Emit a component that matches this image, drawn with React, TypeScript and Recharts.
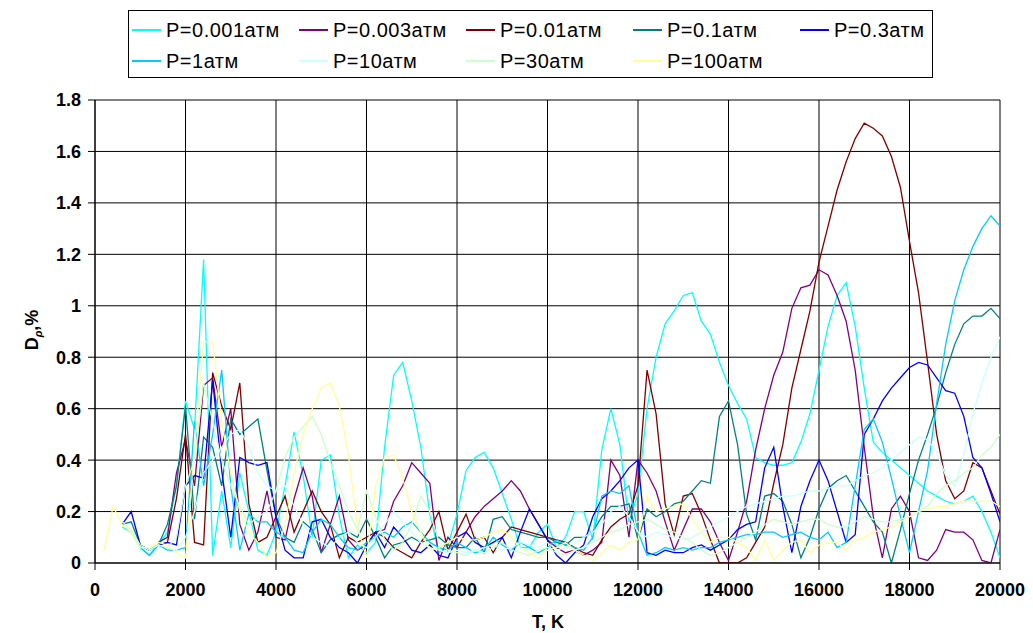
import React from 'react';
import { LineChart, Line, XAxis, YAxis, CartesianGrid } from 'recharts';

const T_VALUES: number[] = Array.from({ length: 100 }, (_, i) => 200 * (i + 1));
const X_TICKS = [0, 2000, 4000, 6000, 8000, 10000, 12000, 14000, 16000, 18000, 20000];
const Y_TICKS = [0, 0.2, 0.4, 0.6, 0.8, 1, 1.2, 1.4, 1.6, 1.8];

const P0001 = [
  null, null, 0.14, 0.12, 0.06, 0.03, 0.07, 0.12, 0.3, 0.63,
  0.52, 1.18, 0.03, 0.28, 0.06, 0.35, 0.2, 0.05, 0.03, 0.12,
  0.3, 0.51, 0.34, 0.1, 0.4, 0.42, 0.18, 0.02, 0.07, 0.04,
  0.08, 0.45, 0.73, 0.78, 0.63, 0.45, 0.19, 0.04, 0.07, 0.19,
  0.36, 0.41, 0.43, 0.37, 0.27, 0.17, 0.06, 0.06, 0.12, 0.15,
  0.06, 0.1, 0.2, 0.2, 0.09, 0.44, 0.6, 0.46, 0.16, 0.27,
  0.6, 0.8, 0.93, 0.98, 1.04, 1.05, 0.94, 0.89, 0.78, 0.69,
  0.62, 0.56, 0.41, 0.39, 0.38, 0.38, 0.39, 0.47, 0.58, 0.75,
  0.92, 1.04, 1.09, 0.92, 0.68, 0.47, 0.43, 0.4, 0.37, 0.34,
  0.31, 0.28, 0.26, 0.24, 0.23, 0.24, 0.26, 0.2, 0.12, 0.02,
];

const P0003 = [
  null, null, null, null, null, null, 0.08, 0.1, 0.35, 0.48,
  0.3, 0.69, 0.72, 0.45, 0.6, 0.15, 0.05, 0.12, 0.28, 0.1,
  0.09, 0.25, 0.37, 0.26, 0.04, 0.15, 0.26, 0.09, 0.05, 0.07,
  0.12, 0.13, 0.24, 0.3, 0.39, 0.35, 0.31, 0.01, 0.1, 0.06,
  0.12, 0.18, 0.22, 0.25, 0.28, 0.32, 0.28, 0.21, 0.15, 0.09,
  0.06, 0.04, 0.05, 0.03, 0.05, 0.08, 0.4, 0.34, 0.1, 0.4,
  0.35, 0.28, 0.16, 0.05, 0.13, 0.21, 0.21, 0.16, 0.08, 0.01,
  0.12, 0.24, 0.44, 0.6, 0.73, 0.82, 0.99, 1.07, 1.08, 1.14,
  1.12, 1.04, 0.94, 0.75, 0.45, 0.18, 0.02, 0.21, 0.26, 0.2,
  0.02, 0.01, 0.05, 0.13, 0.12, 0.12, 0.09, 0.01, 0.0, 0.13,
];

const P001 = [
  null, null, null, null, null, null, 0.07, 0.08, 0.25, 0.5,
  0.08, 0.07, 0.74, 0.61, 0.52, 0.7, 0.23, 0.08, 0.1, 0.18,
  0.26, 0.12, 0.2, 0.28, 0.2, 0.15, 0.02, 0.1, 0.08, 0.1,
  0.12, 0.1, 0.06, 0.04, 0.02, 0.08, 0.13, 0.2, 0.05, 0.12,
  0.19, 0.09, 0.1, 0.04, 0.1, 0.14, 0.13, 0.12, 0.11, 0.1,
  0.09, 0.08, 0.06, 0.04, 0.03, 0.09, 0.14, 0.17, 0.19, 0.3,
  0.75, 0.58, 0.23, 0.11, 0.26, 0.27, 0.19, 0.09, 0.0, 0.0,
  0.0, 0.02, 0.08, 0.14, 0.31, 0.46, 0.68, 0.83, 0.98, 1.17,
  1.31, 1.45, 1.56, 1.65, 1.71, 1.69, 1.66, 1.58, 1.46, 1.25,
  1.05, 0.78, 0.5, 0.32, 0.25, 0.28, 0.39, 0.37, 0.28, 0.19,
];

const P01 = [
  null, null, 0.15, 0.16, 0.07, 0.05, 0.07, 0.15, 0.3, 0.61,
  0.17, 0.49, 0.45, 0.3, 0.56, 0.5, 0.53, 0.56, 0.36, 0.18,
  0.1, 0.08, 0.16, 0.13, 0.04, 0.09, 0.11, 0.12, 0.1, 0.17,
  0.1, 0.02, 0.07, 0.08, 0.1, 0.08, 0.09, 0.1, 0.07, 0.06,
  0.06, 0.1, 0.04, 0.17, 0.18, 0.13, 0.12, 0.11, 0.1, 0.1,
  0.08, 0.07, 0.1, 0.1, 0.12, 0.18, 0.22, 0.22, 0.23, 0.09,
  0.21, 0.18, 0.2, 0.23, 0.24, 0.28, 0.32, 0.31, 0.57, 0.63,
  0.46, 0.19, 0.09, 0.26, 0.27, 0.24, 0.15, 0.02, 0.1, 0.21,
  0.29, 0.32, 0.34, 0.28, 0.22, 0.16, 0.12, 0.0, 0.13, 0.27,
  0.4, 0.5, 0.61, 0.74, 0.85, 0.93, 0.96, 0.96, 0.99, 0.95,
];

const P03 = [
  null, null, 0.15, 0.2, 0.07, 0.05, 0.07, 0.08, 0.07, 0.3,
  0.34, 0.33, 0.71, 0.36, 0.1, 0.41, 0.39, 0.38, 0.39, 0.18,
  0.05, 0.02, 0.02, 0.16, 0.17, 0.1, 0.06, 0.04, 0.0, 0.07,
  0.12, 0.06, 0.14, 0.1, 0.05, 0.04, 0.07, 0.03, 0.02, 0.1,
  0.12, 0.08, 0.06, 0.08, 0.1, 0.02, 0.12, 0.21, 0.15, 0.09,
  0.03, 0.0, 0.04, 0.07, 0.18, 0.25, 0.28, 0.32, 0.37, 0.4,
  0.04, 0.03, 0.05, 0.04, 0.04, 0.06, 0.07, 0.05, 0.07, 0.09,
  0.13, 0.15, 0.16, 0.37, 0.45, 0.22, 0.04, 0.22, 0.32, 0.4,
  0.32, 0.2, 0.08, 0.11, 0.5, 0.56, 0.63, 0.68, 0.72, 0.76,
  0.78, 0.77, 0.72, 0.67, 0.66, 0.57, 0.41, 0.37, 0.27, 0.16,
];

const P1 = [
  null, null, null, null, 0.06, 0.03, 0.07, 0.05, 0.05, 0.06,
  0.55, 0.3, 0.5, 0.75, 0.3, 0.05, 0.19, 0.16, 0.16, 0.12,
  0.1, 0.05, 0.04, 0.12, 0.17, 0.15, 0.1, 0.06, 0.05, 0.08,
  0.1, 0.12, 0.1, 0.14, 0.16, 0.12, 0.08, 0.06, 0.05, 0.08,
  0.06, 0.04, 0.05, 0.1, 0.07, 0.05, 0.08, 0.06, 0.04, 0.06,
  0.09, 0.07, 0.06, 0.05, 0.1, 0.26, 0.28, 0.27, 0.3, 0.12,
  0.03, 0.04, 0.06, 0.05, 0.06, 0.05, 0.06, 0.06, 0.08, 0.09,
  0.1, 0.11, 0.11, 0.12, 0.12, 0.1, 0.11, 0.12, 0.1, 0.09,
  0.12, 0.06, 0.08, 0.3, 0.52, 0.56, 0.47, 0.33, 0.18, 0.04,
  0.2, 0.36, 0.62, 0.85, 1.02, 1.14, 1.23, 1.3, 1.35, 1.31,
];

const P10 = [
  null, null, null, null, null, 0.05, 0.07, 0.06, 0.05, 0.1,
  0.2, 0.35, 0.4, 0.45, 0.5, 0.52, 0.45, 0.35, 0.3, 0.28,
  0.3, 0.22, 0.15, 0.1, 0.08, 0.06, 0.1, 0.12, 0.08, 0.06,
  0.1, 0.15, 0.2, 0.16, 0.12, 0.08, 0.06, 0.05, 0.04, 0.05,
  0.04, 0.05, 0.06, 0.07, 0.05, 0.06, 0.08, 0.07, 0.06, 0.08,
  0.05, 0.06, 0.08, 0.1, 0.12, 0.15, 0.2, 0.22, 0.18, 0.12,
  0.1, 0.12, 0.11, 0.1, 0.09, 0.1, 0.12, 0.14, 0.16, 0.18,
  0.2, 0.22, 0.23, 0.24, 0.25, 0.26, 0.26, 0.27, 0.28, 0.28,
  0.29, 0.3, 0.3, 0.32, 0.34, 0.35, 0.37, 0.4, 0.43, 0.46,
  0.49, 0.48, 0.43, 0.34, 0.3, 0.42, 0.58, 0.7, 0.8, 0.88,
];

const P30 = [
  null, null, 0.16, 0.13, 0.07, 0.05, 0.07, 0.06, 0.1, 0.3,
  0.4, 0.7, 0.55, 0.4, 0.3, 0.22, 0.15, 0.18, 0.2, 0.28,
  0.41, 0.49, 0.53, 0.57, 0.5, 0.39, 0.3, 0.2, 0.13, 0.28,
  0.18, 0.09, 0.05, 0.08, 0.15, 0.26, 0.2, 0.08, 0.05, 0.04,
  0.03, 0.05, 0.04, 0.06, 0.08, 0.05, 0.04, 0.03, 0.05, 0.06,
  0.04, 0.03, 0.05, 0.06, 0.08, 0.1, 0.12, 0.13, 0.15, 0.16,
  0.17, 0.15, 0.13, 0.12, 0.1, 0.08, 0.05, 0.03, 0.04, 0.06,
  0.08, 0.1, 0.12, 0.15, 0.17, 0.16, 0.15, 0.16, 0.17, 0.17,
  0.15, 0.14, 0.14, 0.16, 0.18, 0.17, 0.16, 0.16, 0.17, 0.18,
  0.2, 0.22, 0.27, 0.3, 0.32, 0.35, 0.37, 0.42, 0.45, 0.5,
];

const P100 = [
  0.05, 0.22, 0.15, 0.12, 0.06, 0.06, 0.08, 0.07, 0.04, 0.02,
  0.45, 0.86, 0.86, 0.55, 0.35, 0.2, 0.12, 0.08, 0.02, 0.04,
  0.15, 0.35, 0.5, 0.6, 0.68, 0.7, 0.61, 0.42, 0.14, 0.02,
  0.3, 0.41, 0.42, 0.33, 0.2, 0.12, 0.05, 0.06, 0.08, 0.1,
  0.09, 0.09, 0.1, 0.12, 0.13, 0.1, 0.06, 0.04, 0.02, 0.05,
  0.06, 0.08, 0.05, 0.03, 0.01, 0.04, 0.07, 0.05, 0.08, 0.09,
  0.26, 0.2, 0.21, 0.22, 0.23, 0.17, 0.12, 0.08, 0.1, 0.1,
  0.08, 0.06, 0.01, 0.09, 0.01, 0.05, 0.08, 0.09, 0.04, 0.07,
  0.08, 0.08, 0.05, 0.09, 0.1, 0.12, 0.13, 0.14, 0.16, 0.18,
  0.2, 0.21, 0.22, 0.22, 0.23, 0.24, 0.24, 0.24, 0.24, 0.22,
];

const SERIES = [
  { key: 'p0001', name: 'P=0.001атм', color: '#00FFFF', values: P0001 },
  { key: 'p0003', name: 'P=0.003атм', color: '#800080', values: P0003 },
  { key: 'p001', name: 'P=0.01атм', color: '#800000', values: P001 },
  { key: 'p01', name: 'P=0.1атм', color: '#008080', values: P01 },
  { key: 'p03', name: 'P=0.3атм', color: '#0000FF', values: P03 },
  { key: 'p1', name: 'P=1атм', color: '#00CCFF', values: P1 },
  { key: 'p10', name: 'P=10атм', color: '#CCFFFF', values: P10 },
  { key: 'p30', name: 'P=30атм', color: '#CCFFCC', values: P30 },
  { key: 'p100', name: 'P=100атм', color: '#FFFF99', values: P100 },
];

const data = T_VALUES.map((T, i) => {
  const row: Record<string, number | null> = { T };
  SERIES.forEach((s) => {
    row[s.key] = s.values[i];
  });
  return row;
});

const FONT = '"Liberation Sans", Arial, sans-serif';
const LEGEND_COLS = [132, 299, 466, 633, 800];
const LEGEND_ROWS = [30, 61];

export default function App() {
  return (
    <div style={{ position: 'absolute', left: 0, top: 0, width: 1033, height: 633, background: '#fff', overflow: 'hidden', fontFamily: FONT }}>
      <LineChart width={1033} height={633} data={data} margin={{ top: 100, right: 33, bottom: 0, left: 0 }}>
        <CartesianGrid stroke="#000" strokeWidth={1} />
        <XAxis
          dataKey="T"
          type="number"
          domain={[0, 20000]}
          ticks={X_TICKS}
          height={70}
          tickSize={7}
          tickMargin={13}
          stroke="#000"
          tick={{ fill: '#000', fontSize: 18, fontWeight: 'bold', fontFamily: FONT }}
          interval={0}
          allowDataOverflow
        />
        <YAxis
          type="number"
          domain={[0, 1.8]}
          ticks={Y_TICKS}
          width={95}
          tickSize={7}
          tickMargin={7}
          stroke="#000"
          interval={0}
          tickFormatter={(v: number) => String(Math.round(v * 10) / 10)}
          tick={{ fill: '#000', fontSize: 18, fontWeight: 'bold', fontFamily: FONT }}
          allowDataOverflow
        />
        {SERIES.map((s) => (
          <Line
            key={s.key}
            type="linear"
            dataKey={s.key}
            name={s.name}
            stroke={s.color}
            strokeWidth={1.3}
            dot={false}
            activeDot={false}
            isAnimationActive={false}
          />
        ))}
      </LineChart>

      <div style={{ position: 'absolute', left: 128, top: 10, width: 805, height: 68, border: '1px solid #000', boxSizing: 'border-box' }} />
      {SERIES.map((s, i) => {
        const col = i < 5 ? i : i - 5;
        const row = i < 5 ? 0 : 1;
        const x = LEGEND_COLS[col];
        const y = LEGEND_ROWS[row];
        return (
          <div key={s.key} style={{ position: 'absolute', left: x, top: y - 12, height: 24, display: 'flex', alignItems: 'center', whiteSpace: 'nowrap' }}>
            <div style={{ width: 29, height: 2, background: s.color }} />
            <span style={{ marginLeft: 5, fontSize: 20, letterSpacing: 0.5, color: '#000', fontFamily: FONT }}>{s.name}</span>
          </div>
        );
      })}

      <div style={{ position: 'absolute', left: 33, top: 330, transform: 'translate(-50%, -50%) rotate(-90deg)', fontSize: 18, fontWeight: 'bold', whiteSpace: 'nowrap', color: '#000' }}>
        D<sub style={{ fontSize: 11, fontStyle: 'italic' }}>ρ</sub>,%
      </div>
      <div style={{ position: 'absolute', left: 548, top: 612, transform: 'translateX(-50%)', fontSize: 18, fontWeight: 'bold', whiteSpace: 'nowrap', color: '#000' }}>
        T, K
      </div>
    </div>
  );
}
